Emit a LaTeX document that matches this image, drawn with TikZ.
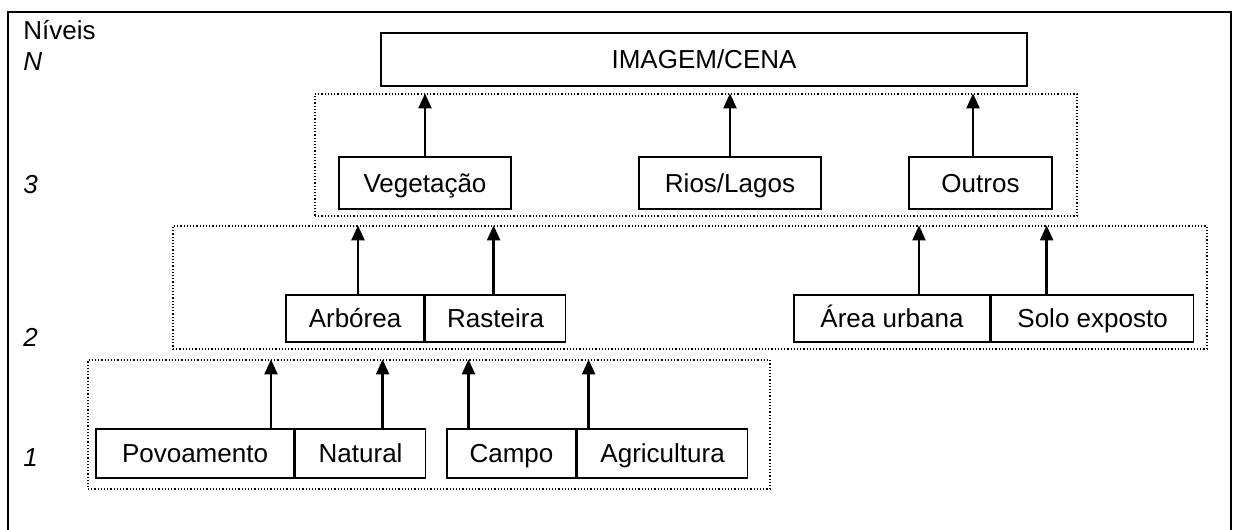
\documentclass[tikz,border=0pt]{standalone}
\usepackage{fontspec}
\setmainfont{Liberation Sans}
\usepackage{tikz}
\usetikzlibrary{arrows.meta,positioning}

\begin{document}
\begin{tikzpicture}[x=0.5pt, y=-0.5pt, font=\fontsize{13}{15}\selectfont,
    box/.style={draw, line width=0.8pt, inner sep=0pt, text height=9.3pt, text depth=0pt},
    group/.style={draw, densely dotted, line width=0.6pt, inner sep=0pt},
    level/.style={anchor=west, inner sep=0pt, font=\fontsize{13}{15}\selectfont\itshape},
    >={Triangle[width=6.5pt,length=7.5pt]}]
   \useasboundingbox (0,0) rectangle (1237,530);
   \draw[line width=1.1pt] (8,540) -- (8,12) -- (1231,12) -- (1231,540);

   % niveis
   \node[anchor=west, inner sep=0pt] (niveis) at (23,30) {Níveis};
   \node[level] (ln) at (23,62)  {N};
   \node[level] (l3) at (23,185) {3};
   \node[level] (l2) at (23,337) {2};
   \node[level] (l1) at (23,458) {1};

   % grupos
   \node[group, minimum width=381pt, minimum height=61pt]   (lvl3) at (696,155)   {};
   \node[group, minimum width=517pt, minimum height=61.5pt] (lvl2) at (690,287.5) {};
   \node[group, minimum width=341pt, minimum height=64.5pt] (lvl1) at (429,424.5) {};

   \node[box, minimum width=323pt, minimum height=26.5pt] (img) at (704,59.5) {IMAGEM/CENA};

   \node[box, minimum width=86pt,   minimum height=26pt] (veg)    at (425,183)   {Vegetação};
   \node[box, minimum width=91pt,   minimum height=26pt] (rios)   at (730,183)   {Rios/Lagos};
   \node[box, minimum width=71.5pt, minimum height=26pt] (outros) at (980.5,183) {Outros};

   \node[box, minimum width=69pt,  minimum height=23.5pt] (arb)  at (355,318.5) {Arbórea};
   \node[box, minimum width=70pt,  minimum height=23.5pt] (ras)  [right=0pt of arb]  {Rasteira};
   \node[box, minimum width=98pt,  minimum height=23.5pt] (area) at (892,318.5) {Área urbana};
   \node[box, minimum width=101pt, minimum height=23.5pt] (solo) [right=0pt of area] {Solo exposto};

   \node[box, minimum width=99pt,   minimum height=24.5pt] (pov)   at (195,453.5)   {Povoamento};
   \node[box, minimum width=65pt,   minimum height=24.5pt] (nat)   [right=0pt of pov]   {Natural};
   \node[box, minimum width=64.5pt, minimum height=24.5pt] (campo) at (511.5,453.5) {Campo};
   \node[box, minimum width=85pt,   minimum height=24.5pt] (agri)  [right=0pt of campo] {Agricultura};

   \path[->, line width=1.2pt]
    (veg.north)                   edge (veg.north |- lvl3.north)
    (rios.north)                  edge (rios.north |- lvl3.north)
    ([xshift=-3.75pt]outros.north) edge ([xshift=-3.75pt]outros.north |- lvl3.north)
    ([xshift=1.5pt]arb.north)     edge ([xshift=1.5pt]arb.north |- lvl2.north)
    ([xshift=-1pt]ras.north)      edge ([xshift=-1pt]ras.north |- lvl2.north)
    ([xshift=13.5pt]area.north)   edge ([xshift=13.5pt]area.north |- lvl2.north)
    ([xshift=-23pt]solo.north)    edge ([xshift=-23pt]solo.north |- lvl2.north)
    ([xshift=38pt]pov.north)      edge ([xshift=38pt]pov.north |- lvl1.north)
    ([xshift=11pt]nat.north)      edge ([xshift=11pt]nat.north |- lvl1.north)
    ([xshift=-21.5pt]campo.north) edge ([xshift=-21.5pt]campo.north |- lvl1.north)
    ([xshift=-37pt]agri.north)    edge ([xshift=-37pt]agri.north |- lvl1.north);
\end{tikzpicture}
\end{document}
